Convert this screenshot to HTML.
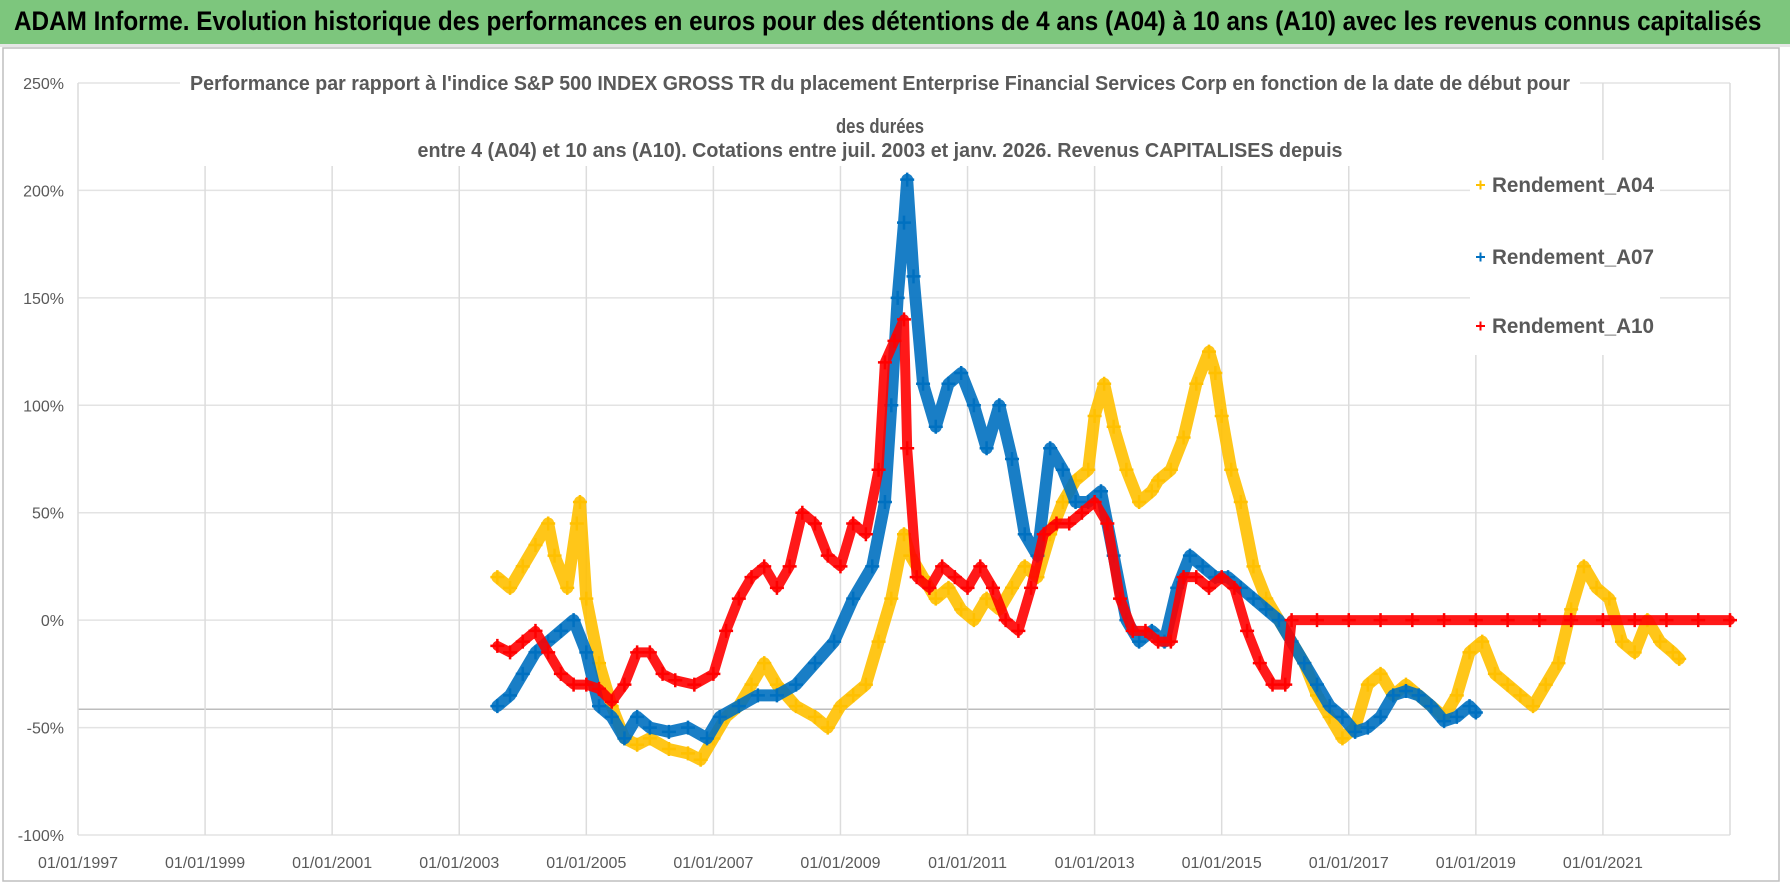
<!DOCTYPE html>
<html><head><meta charset="utf-8"><style>
body{margin:0;width:1790px;height:886px;overflow:hidden;background:#fff;font-family:"Liberation Sans",sans-serif;}
#bar{position:absolute;left:0;top:0;width:1790px;height:44px;background:#7dc67d;border-bottom:3px solid #e6e6e6;}
#bar span{position:absolute;left:14px;top:6px;font-size:27px;font-weight:bold;color:#000;white-space:nowrap;transform-origin:0 0;transform:scaleX(0.9);}
</style></head><body>
<div id="bar"><span>ADAM Informe. Evolution historique des performances en euros pour des détentions de 4 ans (A04) à 10 ans (A10) avec les revenus connus capitalisés</span></div>
<svg id="chart" width="1790" height="886" style="position:absolute;left:0;top:0"></svg>
<script>
const yTicks=[250,200,150,100,50,0,-50,-100];
const yTickLabels=["250%","200%","150%","100%","50%","0%","-50%","-100%"];
const xTicks=[1997,1999,2001,2003,2005,2007,2009,2011,2013,2015,2017,2019,2021];
const xTickLabels=["01/01/1997","01/01/1999","01/01/2001","01/01/2003","01/01/2005","01/01/2007","01/01/2009","01/01/2011","01/01/2013","01/01/2015","01/01/2017","01/01/2019","01/01/2021"];
const a04Dates=[2003.6,2003.8,2004.0,2004.2,2004.4,2004.5,2004.7,2004.85,2004.9,2005.0,2005.2,2005.4,2005.6,2005.8,2006.0,2006.3,2006.6,2006.8,2007.0,2007.2,2007.4,2007.6,2007.8,2008.0,2008.3,2008.6,2008.8,2009.0,2009.2,2009.4,2009.6,2009.8,2010.0,2010.1,2010.3,2010.5,2010.7,2010.9,2011.1,2011.3,2011.5,2011.7,2011.9,2012.1,2012.3,2012.5,2012.7,2012.9,2013.0,2013.15,2013.3,2013.5,2013.7,2013.9,2014.0,2014.2,2014.4,2014.6,2014.8,2014.9,2015.0,2015.15,2015.3,2015.5,2015.7,2015.9,2016.1,2016.3,2016.5,2016.7,2016.9,2017.1,2017.3,2017.5,2017.7,2017.9,2018.1,2018.3,2018.5,2018.7,2018.9,2019.1,2019.3,2019.5,2019.7,2019.9,2020.1,2020.3,2020.5,2020.7,2020.9,2021.1,2021.3,2021.5,2021.7,2021.9,2022.1,2022.2];
const a04Values=[20,15,25,35,45,30,15,45,55,10,-20,-40,-55,-58,-55,-60,-62,-65,-55,-45,-40,-30,-20,-30,-40,-45,-50,-40,-35,-30,-10,10,40,30,20,10,15,5,0,10,5,15,25,20,40,55,65,70,95,110,90,70,55,60,65,70,85,110,125,115,95,70,55,25,10,0,-10,-20,-35,-45,-55,-50,-30,-25,-35,-30,-35,-40,-45,-35,-15,-10,-25,-30,-35,-40,-30,-20,5,25,15,10,-10,-15,0,-10,-15,-18];
const a07Dates=[2003.6,2003.8,2004.0,2004.2,2004.4,2004.6,2004.8,2005.0,2005.2,2005.4,2005.6,2005.8,2006.0,2006.3,2006.6,2006.9,2007.1,2007.4,2007.7,2008.0,2008.3,2008.6,2008.9,2009.2,2009.5,2009.7,2009.8,2009.9,2010.0,2010.05,2010.15,2010.3,2010.5,2010.7,2010.9,2011.1,2011.3,2011.5,2011.7,2011.9,2012.1,2012.3,2012.5,2012.7,2012.9,2013.1,2013.3,2013.5,2013.7,2013.9,2014.1,2014.3,2014.5,2014.7,2014.9,2015.1,2015.3,2015.5,2015.7,2015.9,2016.1,2016.3,2016.5,2016.7,2016.9,2017.1,2017.3,2017.5,2017.7,2017.9,2018.1,2018.3,2018.5,2018.7,2018.9,2019.0];
const a07Values=[-40,-35,-25,-15,-10,-5,0,-15,-40,-45,-55,-45,-50,-52,-50,-55,-45,-40,-35,-35,-30,-20,-10,10,25,55,100,150,185,205,160,110,90,110,115,100,80,100,75,40,30,80,70,55,55,60,30,0,-10,-5,-10,15,30,25,20,20,15,10,5,0,-10,-20,-30,-40,-45,-52,-50,-45,-35,-33,-35,-40,-47,-45,-40,-43];
const a10Dates=[2003.6,2003.8,2004.0,2004.2,2004.4,2004.6,2004.8,2005.0,2005.2,2005.4,2005.6,2005.8,2006.0,2006.2,2006.4,2006.7,2007.0,2007.2,2007.4,2007.6,2007.8,2008.0,2008.2,2008.4,2008.6,2008.8,2009.0,2009.2,2009.4,2009.6,2009.7,2009.85,2010.0,2010.05,2010.2,2010.4,2010.6,2010.8,2011.0,2011.2,2011.4,2011.6,2011.8,2012.0,2012.2,2012.4,2012.6,2012.8,2013.0,2013.2,2013.4,2013.6,2013.8,2014.0,2014.2,2014.4,2014.6,2014.8,2015.0,2015.2,2015.4,2015.6,2015.8,2016.0,2016.1,2016.5,2017.0,2017.5,2018.0,2018.5,2019.0,2019.5,2020.0,2020.5,2021.0,2021.5,2022.0,2022.5,2023.0];
const a10Values=[-12,-15,-10,-5,-15,-25,-30,-30,-32,-38,-30,-15,-15,-25,-28,-30,-25,-5,10,20,25,15,25,50,45,30,25,45,40,70,120,130,140,80,20,15,25,20,15,25,15,0,-5,15,40,45,45,50,55,45,10,-5,-5,-10,-10,20,20,15,20,15,-5,-20,-30,-30,0,0,0,0,0,0,0,0,0,0,0,0,0,0,0];
const seriesNames=["Rendement_A04","Rendement_A07","Rendement_A10"];

const svg=document.getElementById('chart');
const NS='http://www.w3.org/2000/svg';
const L=78,R=1730,T=83,B=835;
const xS=v=>L+(v-1997)/(2023-1997)*(R-L);
const yS=v=>B-(v+100)/350*(B-T);
function mk(tag,attrs,parent){const e=document.createElementNS(NS,tag);for(const k in attrs)e.setAttribute(k,attrs[k]);(parent||svg).appendChild(e);return e;}
let e=mk('rect',{x:3,y:48,width:1776,height:833,fill:'none',stroke:'#bfbfbf','stroke-width':1.5});


yTicks.forEach((t,i)=>{
  let g=mk('line',{x1:L,x2:R,y1:yS(t),y2:yS(t),stroke:'#e3e3e3','stroke-width':1.5});
  
  
  let tx=mk('text',{x:64,y:yS(t)+6,'text-anchor':'end','font-size':16,fill:'#595959'});
  tx.textContent=yTickLabels[i];
  
  
});
let ref=mk('line',{x1:L,x2:R,y1:yS(-41.5),y2:yS(-41.5),stroke:'#bdbdbd','stroke-width':1.5});


xTicks.concat([2023]).forEach((t,i)=>{
  let g=mk('line',{x1:xS(t),x2:xS(t),y1:T,y2:B,stroke:'#dcdcdc','stroke-width':1.5});
  
  
  if(i<xTickLabels.length){
    let tx=mk('text',{x:xS(t),y:868,'text-anchor':'middle','font-size':16,fill:'#595959'});
    tx.textContent=xTickLabels[i];
    
    
  }
});
const tl=["Performance par rapport à l'indice S&P 500 INDEX GROSS TR  du placement Enterprise Financial Services Corp en fonction de la date de début pour","des durées","entre 4 (A04) et 10 ans (A10). Cotations entre juil. 2003 et janv. 2026. Revenus CAPITALISES depuis"];
const tys=[90,133,157];
const tlen=[1380,88,925];
const tbg=mk('rect',{x:180,y:68,width:1400,height:98,fill:'#fff'});


tl.forEach((s,i)=>{
  let tx=mk('text',{x:880,y:tys[i],'text-anchor':'middle','font-size':20,'font-weight':'bold',fill:'#595959',textLength:tlen[i],lengthAdjust:'spacingAndGlyphs'});
  tx.textContent=s;
  
  
});
const cols=['#FFC000','#0070C0','#FF0000'];
const sets=[[a04Dates,a04Values],[a07Dates,a07Values],[a10Dates,a10Values]];
sets.forEach((s,si)=>{
  const grp=mk('g',{});
  
  
  const pts=s[0].map((d,i)=>xS(d)+','+yS(s[1][i])).join(' ');
  let pl=mk('polyline',{points:pts,fill:'none',stroke:cols[si],'stroke-width':si==2?10:12,'stroke-linejoin':'round','stroke-linecap':'round',opacity:0.9},grp);
  
  
  s[0].forEach((d,i)=>{
    const x=xS(d),y=yS(s[1][i]);
    let p=mk('path',{d:`M${x-7},${y}h14M${x},${y-7}v14`,stroke:cols[si],'stroke-width':2.5},grp);
    
    
  });
});
const lbg=mk('rect',{x:1470,y:160,width:190,height:195,fill:'#fff'});


const ly=[185,257,326];
seriesNames.forEach((n,i)=>{
  const g=mk('g',{});
  
  
  mk('path',{d:`M${1476},${ly[i]}h9M${1480.5},${ly[i]-4.5}v9`,stroke:cols[i],'stroke-width':2},g);
  let tx=mk('text',{x:1492,y:ly[i]+7,'font-size':21,'font-weight':'bold',fill:'#595959',textLength:162,lengthAdjust:'spacingAndGlyphs'},g);
  tx.textContent=n;
});
</script>
</body></html>
